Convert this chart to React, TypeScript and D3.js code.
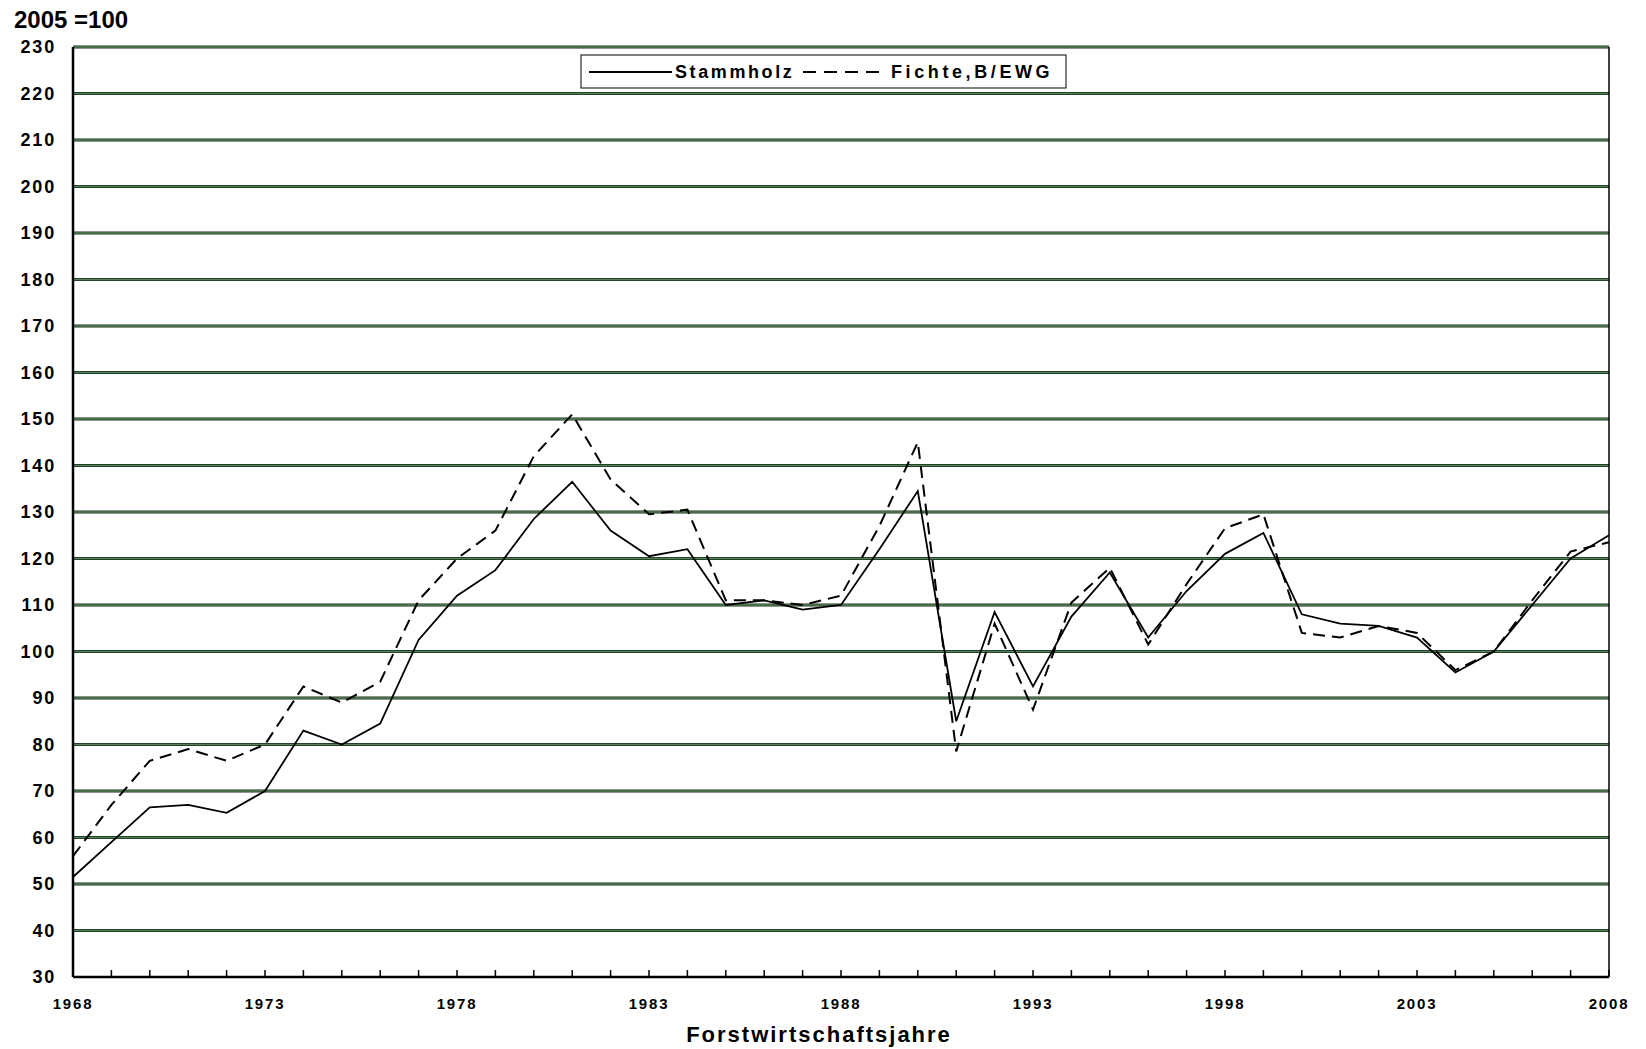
import React, { useRef, useEffect } from 'react';
import * as d3 from 'd3';

const WIDTH = 1646;
const HEIGHT = 1049;

const years = d3.range(1968, 2009);

// Stammholz (solid)
const stammholz = [
  51.5, 59, 66.5, 67, 65.3, 70, 83, 80, 84.5, 102.5,
  112, 117.5, 128.5, 136.5, 126, 120.5, 122, 110, 111, 109,
  110, 122, 134.5, 85, 108.5, 92.5, 107.5, 117, 103, 113,
  121, 125.5, 108, 106, 105.5, 103, 95.5, 100, 110, 120,
  125,
];

// Fichte, B/EWG (dashed)
const fichte = [
  56, 67, 76.5, 79, 76.5, 80, 92.5, 89, 93.5, 111,
  120, 126, 142, 151, 137, 129.5, 130.5, 111, 111, 110,
  112, 127, 145, 78.5, 106, 87.5, 110.5, 118, 101.5, 114.5,
  126.5, 129.5, 104, 103, 105.5, 104, 96, 100, 111, 121.5,
  123.5,
];

const yTicks = d3.range(30, 231, 10);
const xLabelYears = [1968, 1973, 1978, 1983, 1988, 1993, 1998, 2003, 2008];

const FONT = '"Liberation Sans", Arial, sans-serif';

export default function App() {
  const svgRef = useRef<SVGSVGElement>(null);

  useEffect(() => {
    if (!svgRef.current) return;
    const svg = d3.select(svgRef.current);
    svg.selectAll('*').remove();

    const left = 73, right = 1609, top = 47, bottom = 977;

    const x = d3.scaleLinear().domain([1968, 2008]).range([left, right]);
    const y = d3.scaleLinear().domain([30, 230]).range([bottom, top]);

    svg.append('rect').attr('width', WIDTH).attr('height', HEIGHT).attr('fill', 'white');

    // gridlines: dark edges with a green core
    const grid = svg.append('g');
    yTicks.filter((t) => t > 30).forEach((t) => {
      grid.append('line')
        .attr('x1', left).attr('x2', right)
        .attr('y1', y(t)).attr('y2', y(t))
        .attr('stroke', '#1a2a1a')
        .attr('stroke-width', 3.2);
      grid.append('line')
        .attr('x1', left).attr('x2', right)
        .attr('y1', y(t)).attr('y2', y(t))
        .attr('stroke', '#55845a')
        .attr('stroke-width', 1.6);
    });

    // axes frame
    svg.append('line')
      .attr('x1', left).attr('x2', left).attr('y1', top).attr('y2', bottom)
      .attr('stroke', '#000').attr('stroke-width', 2.5);
    svg.append('line')
      .attr('x1', left).attr('x2', right).attr('y1', bottom).attr('y2', bottom)
      .attr('stroke', '#000').attr('stroke-width', 2.5);
    svg.append('line')
      .attr('x1', right).attr('x2', right).attr('y1', top).attr('y2', bottom)
      .attr('stroke', '#000').attr('stroke-width', 1.5);

    // x ticks (pointing inward)
    years.forEach((yr) => {
      svg.append('line')
        .attr('x1', x(yr)).attr('x2', x(yr))
        .attr('y1', bottom).attr('y2', bottom - 7)
        .attr('stroke', '#000').attr('stroke-width', 1.5);
    });

    // y tick labels
    yTicks.forEach((t) => {
      svg.append('text')
        .attr('x', 56)
        .attr('y', y(t))
        .attr('text-anchor', 'end')
        .attr('dominant-baseline', 'central')
        .attr('font-family', FONT)
        .attr('font-weight', 'bold')
        .attr('font-size', 18)
        .attr('letter-spacing', 1.8)
        .text(t);
    });

    // x tick labels
    xLabelYears.forEach((yr) => {
      svg.append('text')
        .attr('x', x(yr))
        .attr('y', 1003)
        .attr('text-anchor', 'middle')
        .attr('dominant-baseline', 'central')
        .attr('font-family', FONT)
        .attr('font-weight', 'bold')
        .attr('font-size', 15)
        .attr('letter-spacing', 1.8)
        .text(yr);
    });

    svg.append('text')
      .attr('x', 819).attr('y', 1034)
      .attr('text-anchor', 'middle')
      .attr('dominant-baseline', 'central')
      .attr('font-family', FONT)
      .attr('font-weight', 'bold')
      .attr('font-size', 22)
      .attr('letter-spacing', 2)
      .text('Forstwirtschaftsjahre');

    svg.append('text')
      .attr('x', 14).attr('y', 19)
      .attr('dominant-baseline', 'central')
      .attr('font-family', FONT)
      .attr('font-weight', 'bold')
      .attr('font-size', 24)
      .text('2005 =100');

    const line = d3.line<number>()
      .x((_d, i) => x(years[i]))
      .y((d) => y(d));

    svg.append('path')
      .datum(fichte)
      .attr('d', line)
      .attr('fill', 'none')
      .attr('stroke', '#000')
      .attr('stroke-width', 2)
      .attr('stroke-dasharray', '12,7');

    svg.append('path')
      .datum(stammholz)
      .attr('d', line)
      .attr('fill', 'none')
      .attr('stroke', '#000')
      .attr('stroke-width', 1.8);

    // legend
    const lg = svg.append('g');
    lg.append('rect')
      .attr('x', 581).attr('y', 55).attr('width', 485).attr('height', 33)
      .attr('fill', 'white').attr('stroke', '#000').attr('stroke-width', 1);
    lg.append('line')
      .attr('x1', 589).attr('x2', 672).attr('y1', 72).attr('y2', 72)
      .attr('stroke', '#000').attr('stroke-width', 1.8);
    lg.append('text')
      .attr('x', 675).attr('y', 72)
      .attr('dominant-baseline', 'central')
      .attr('font-family', FONT).attr('font-weight', 'bold')
      .attr('font-size', 18).attr('letter-spacing', 2.6)
      .text('Stammholz');
    lg.append('line')
      .attr('x1', 803).attr('x2', 887).attr('y1', 72).attr('y2', 72)
      .attr('stroke', '#000').attr('stroke-width', 2)
      .attr('stroke-dasharray', '13,8');
    lg.append('text')
      .attr('x', 891).attr('y', 72)
      .attr('dominant-baseline', 'central')
      .attr('font-family', FONT).attr('font-weight', 'bold')
      .attr('font-size', 18).attr('letter-spacing', 3.6)
      .text('Fichte,B/EWG');
  }, []);

  return (
    <svg
      ref={svgRef}
      width={WIDTH}
      height={HEIGHT}
      style={{ position: 'absolute', left: 0, top: 0 }}
    />
  );
}
